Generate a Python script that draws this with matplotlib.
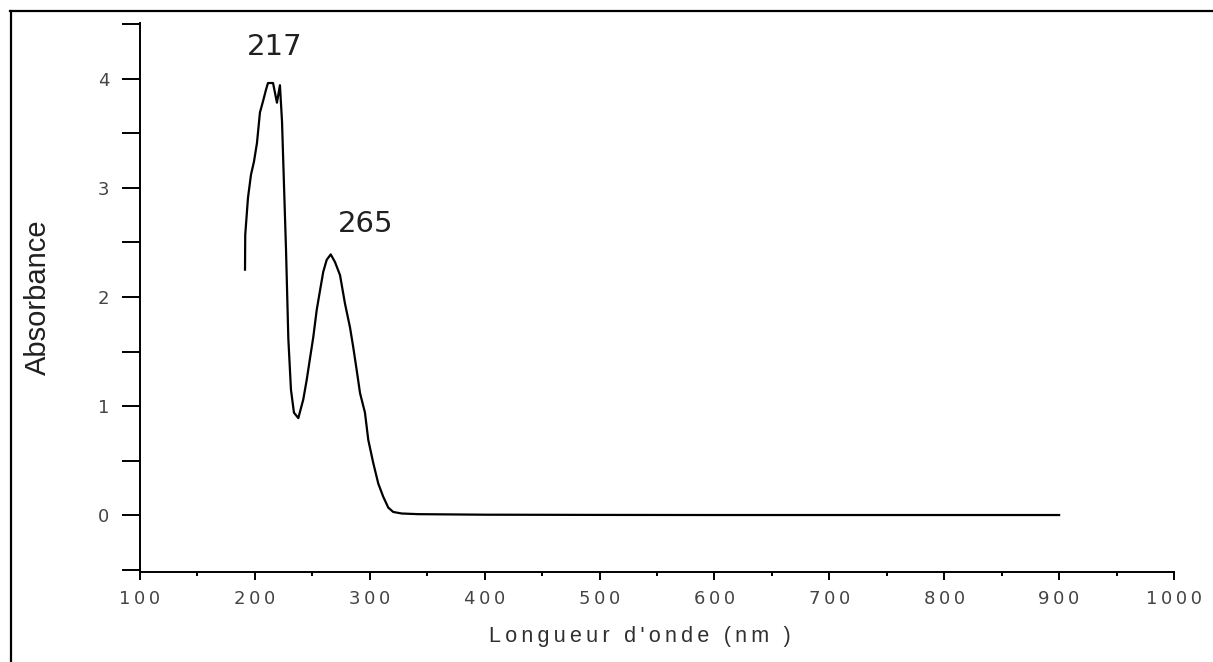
import matplotlib
matplotlib.use("Agg")
import matplotlib.pyplot as plt
from matplotlib.lines import Line2D
from matplotlib.ticker import MultipleLocator, FuncFormatter

# UV-Vis spectrum: wavelength (nm) and absorbance
wavelength = [191.4, 191.6, 194.0, 196.6, 199.2, 201.8, 204.4, 207.0, 209.7, 211.4,
              215.8, 219.2, 221.8, 223.6, 227.1, 229.1, 231.4, 234.0, 237.8, 242.1,
              245.1, 248.0, 250.8, 253.8, 256.7, 259.5, 262.5, 266.0, 269.7, 274.1,
              278.4, 282.8, 285.6, 288.6, 291.5, 295.8, 298.7, 303.0, 307.4, 311.7,
              316.1, 320.4, 327.8, 341.9, 400.0, 500.0, 600.0, 700.0, 800.0, 900.0]
absorbance = [2.25, 2.57, 2.91, 3.12, 3.24, 3.41, 3.69, 3.79, 3.90, 3.96,
              3.96, 3.78, 3.94, 3.61, 2.43, 1.62, 1.15, 0.94, 0.89, 1.06,
              1.24, 1.44, 1.63, 1.88, 2.06, 2.23, 2.34, 2.39, 2.32, 2.20,
              1.94, 1.72, 1.54, 1.33, 1.12, 0.94, 0.69, 0.48, 0.29, 0.17,
              0.07, 0.03, 0.016, 0.01, 0.005, 0.003, 0.002, 0.002, 0.002, 0.002]

peak_labels = ["217", "265"]
peak_pos = [(217.5, 4.29), (296.7, 2.67)]

W, H = 1213, 662
fig = plt.figure(figsize=(W / 100, H / 100), dpi=100)
ax = fig.add_axes([140 / W, 1 - 572 / H, 1034 / W, 549 / H])

ax.plot(wavelength, absorbance, color="black", lw=1.6)

ax.set_xlim(100, 1000)
ax.set_ylim(-0.52, 4.51)
ax.spines["top"].set_visible(False)
ax.spines["right"].set_visible(False)
for s in ("left", "bottom"):
    ax.spines[s].set_linewidth(1.4)

ax.xaxis.set_major_locator(MultipleLocator(100))
ax.xaxis.set_minor_locator(MultipleLocator(50))
ax.yaxis.set_major_locator(MultipleLocator(1))
ax.yaxis.set_minor_locator(MultipleLocator(0.5))

spaced = FuncFormatter(lambda v, p: "\u2009".join(f"{v:g}"))
ax.xaxis.set_major_formatter(spaced)
ax.yaxis.set_major_formatter(spaced)

ax.tick_params(axis="x", which="major", direction="out", length=6, width=1.4,
               pad=7, labelsize=13, labelcolor="#444444")
ax.tick_params(axis="x", which="minor", direction="out", length=3, width=1.4)
ax.tick_params(axis="y", which="major", direction="out", length=13, width=1.4,
               pad=9, labelsize=13, labelcolor="#444444")
ax.tick_params(axis="y", which="minor", direction="out", length=13, width=1.4)

ax.set_xlabel("\u2009".join("Longueur d'onde (nm )"), fontsize=15.5,
              family=["Liberation Sans", "DejaVu Sans"], color="#303030")
ax.xaxis.set_label_coords(0.4836, -0.098)
ax.set_ylabel("Absorbance", fontsize=21, family=["Liberation Sans", "DejaVu Sans"],
              color="#202020")
ax.yaxis.set_label_coords(-0.0847, 0.50)

for txt, (x, y) in zip(peak_labels, peak_pos):
    ax.text(x, y, txt, fontsize=21, ha="center", va="center", color="#202020")

# frame lines along the top and left edges of the image
fig.add_artist(Line2D([10 / W, 1], [1 - 10.5 / H, 1 - 10.5 / H], color="black", lw=1.6))
fig.add_artist(Line2D([10.5 / W, 10.5 / W], [0, 1 - 10.5 / H], color="black", lw=1.6))

fig.savefig("out.png", dpi=100)
